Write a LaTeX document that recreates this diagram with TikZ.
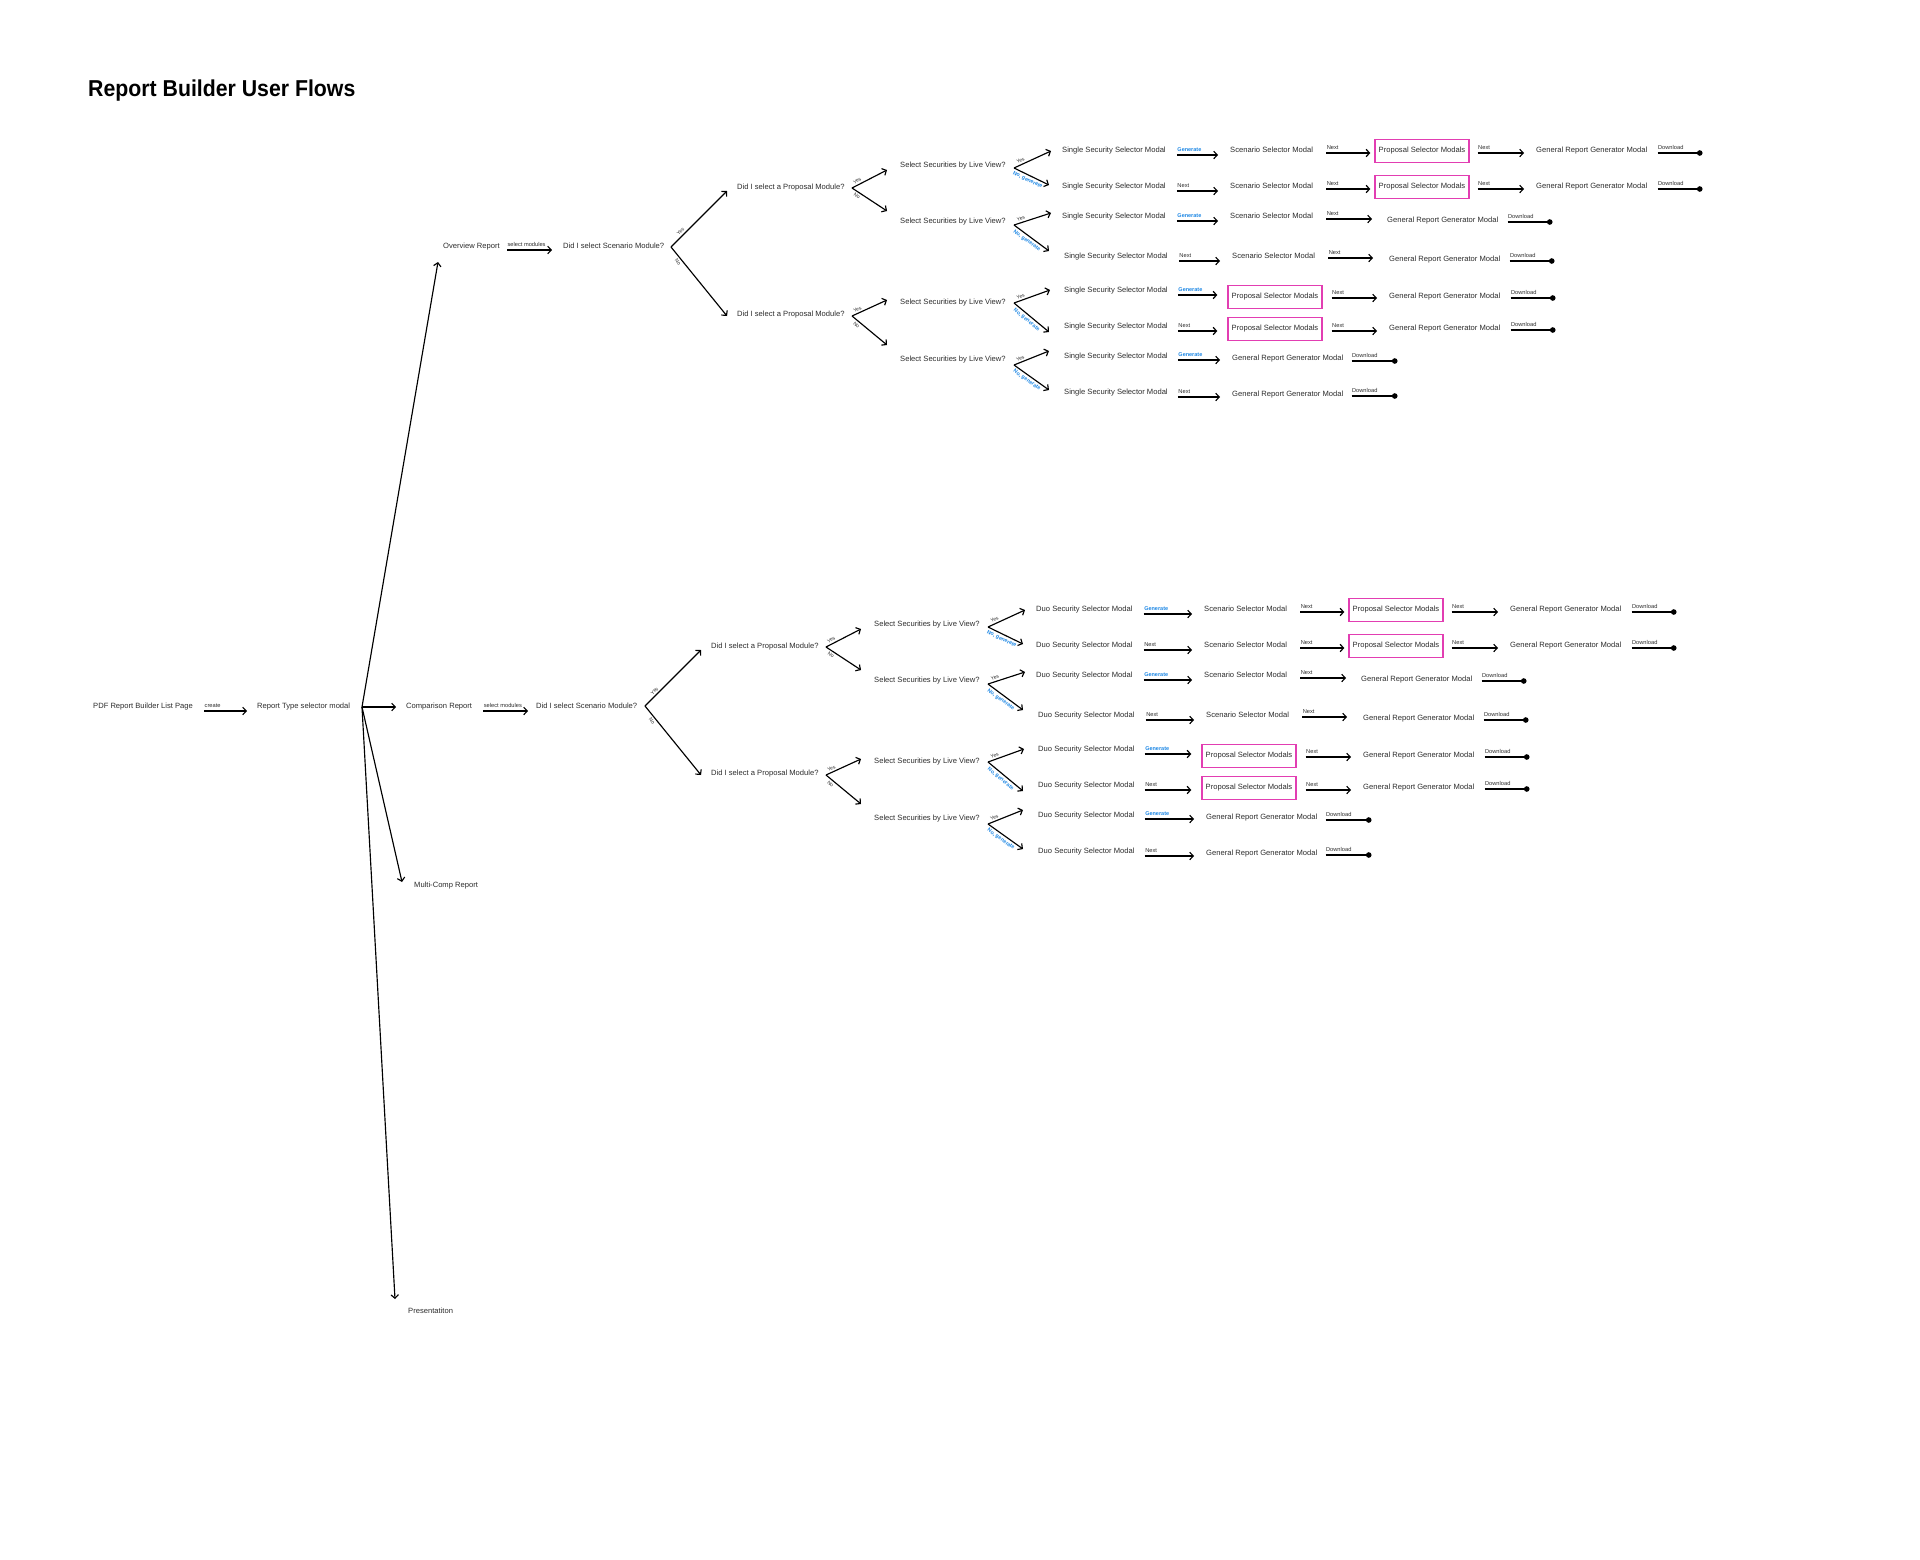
\documentclass[tikz,border=0pt]{standalone}
\usepackage{fontspec}
\setmainfont{Liberation Sans}
\newfontfamily\titlefont[FakeStretch=0.925]{Liberation Sans}
\usetikzlibrary{arrows.meta}
\definecolor{txt}{RGB}{45,45,45}
\definecolor{genblue}{RGB}{30,136,229}
\definecolor{pmag}{RGB}{226,62,178}
\tikzset{
  txtnode/.style={font=\fontsize{7.6}{9}\selectfont, text=txt, inner sep=0pt, anchor=west, text height=5.5pt, text depth=1.6pt},
  lbl/.style={font=\fontsize{5.7}{6}\selectfont, text=txt, inner sep=0pt},
  gen/.style={font=\fontsize{5.5}{6}\selectfont\bfseries, text=genblue, inner sep=0pt},
  yn/.style={font=\fontsize{5}{6}\selectfont, text=txt, inner sep=1.6pt},
  ng/.style={font=\fontsize{5.3}{6}\selectfont\bfseries, text=genblue, inner sep=2pt},
  arr/.style={draw=black, line width=1.15pt, -{Straight Barb[length=3.5pt,width=7.5pt]}},
  dl/.style={draw=black, line width=1.15pt, -{Circle[length=5.5pt]}},
  pbox/.style={txtnode, anchor=center, draw=pmag, line width=1.3pt, minimum width=94pt, minimum height=23pt},
}
% row arrow: from node #1 (gap #2, yshift #3) to node #4 (gap #5, yshift #6), label style #7, label #8
\newcommand\rar[8]{\draw[arr] ([xshift=#2pt,yshift=#3pt]#1.east) -- node[#7,pos=0,anchor=base west,yshift=4pt]{#8} ([xshift=-#5pt,yshift=#6pt]#4.west);}
% download line: node #1, gap #2, yshift #3, end offset #4, end name #5
\newcommand\dlar[5]{\coordinate (#5) at ([xshift=#4pt,yshift=#3pt]#1.east);
  \draw[dl] ([xshift=#2pt,yshift=#3pt]#1.east) -- node[lbl,pos=0,anchor=base west,yshift=4pt]{Download} (#5);}
\newcommand\flowsec[2]{%
  \coordinate (#1f0) at (0,0);
  \node[txtnode] (#1pa) at (66,-59) {Did I select a Proposal Module?};
  \node[txtnode] (#1pb) at (66,68) {Did I select a Proposal Module?};
  \draw[arr] (#1f0) -- node[yn,pos=.22,above,sloped]{Yes} ([xshift=-10pt,yshift=-3pt]#1pa.west);
  \draw[arr] (#1f0) -- node[yn,pos=.18,below,sloped]{No} ([xshift=-10pt,yshift=-1pt]#1pb.west);
  \coordinate (#1f1) at (181,-59);
  \coordinate (#1f2) at (181,69);
  \node[txtnode] (#1la) at (229,-81) {Select Securities by Live View?};
  \node[txtnode] (#1lb) at (229,-25) {Select Securities by Live View?};
  \node[txtnode] (#1lc) at (229,56) {Select Securities by Live View?};
  \node[txtnode] (#1ld) at (229,113) {Select Securities by Live View?};
  \draw[arr] (#1f1) -- node[yn,pos=.2,above,sloped]{Yes} ([xshift=-13pt,yshift=-4pt]#1la.west);
  \draw[arr] (#1f1) -- node[yn,pos=.2,below,sloped]{No} ([xshift=-13pt,yshift=11pt]#1lb.west);
  \draw[arr] (#1f2) -- node[yn,pos=.2,above,sloped]{Yes} ([xshift=-13pt,yshift=3pt]#1lc.west);
  \draw[arr] (#1f2) -- node[yn,pos=.2,below,sloped]{No} ([xshift=-13pt,yshift=15pt]#1ld.west);
  \coordinate (#1v1) at (343,-79);
  \coordinate (#1v2) at (343,-22);
  \coordinate (#1v3) at (343,56);
  \coordinate (#1v4) at (343,118);
  \node[txtnode] (#1s1) at (391,-96) {#2 Security Selector Modal};
  \node[txtnode] (#1s2) at (391,-60) {#2 Security Selector Modal};
  \node[txtnode] (#1s3) at (391,-30) {#2 Security Selector Modal};
  \node[txtnode] (#1s4) at (393,10) {#2 Security Selector Modal};
  \node[txtnode] (#1s5) at (393,44) {#2 Security Selector Modal};
  \node[txtnode] (#1s6) at (393,80) {#2 Security Selector Modal};
  \node[txtnode] (#1s7) at (393,110) {#2 Security Selector Modal};
  \node[txtnode] (#1s8) at (393,146) {#2 Security Selector Modal};
  \draw[arr] (#1v1) -- node[yn,pos=.22,above,sloped]{Yes} ([xshift=-11pt]#1s1.west);
  \draw[arr] (#1v1) -- node[ng,pos=.45,below,sloped]{No, generate} ([xshift=-13pt,yshift=2pt]#1s2.west);
  \draw[arr] (#1v2) -- node[yn,pos=.22,above,sloped]{Yes} ([xshift=-11pt,yshift=4pt]#1s3.west);
  \draw[arr] (#1v2) -- node[ng,pos=.45,below,sloped]{No, generate} ([xshift=-15pt,yshift=6pt]#1s4.west);
  \draw[arr] (#1v3) -- node[yn,pos=.22,above,sloped]{Yes} ([xshift=-14pt,yshift=1pt]#1s5.west);
  \draw[arr] (#1v3) -- node[ng,pos=.45,below,sloped]{No, generate} ([xshift=-15pt,yshift=-5pt]#1s6.west);
  \draw[arr] (#1v4) -- node[yn,pos=.22,above,sloped]{Yes} ([xshift=-15pt,yshift=6pt]#1s7.west);
  \draw[arr] (#1v4) -- node[ng,pos=.45,below,sloped]{No, generate} ([xshift=-15pt,yshift=3pt]#1s8.west);
  \node[txtnode] (#1c1) at (559,-96) {Scenario Selector Modal};
  \node[txtnode] (#1c2) at (559,-60) {Scenario Selector Modal};
  \node[txtnode] (#1c3) at (559,-30) {Scenario Selector Modal};
  \node[txtnode] (#1c4) at (561,10) {Scenario Selector Modal};
  \node[pbox] (#1b1) at (751,-96) {Proposal Selector Modals};
  \node[pbox] (#1b2) at (751,-60) {Proposal Selector Modals};
  \node[pbox] (#1b5) at (604,50) {Proposal Selector Modals};
  \node[pbox] (#1b6) at (604,82) {Proposal Selector Modals};
  \node[txtnode] (#1g1) at (865,-96) {General Report Generator Modal};
  \node[txtnode] (#1g2) at (865,-60) {General Report Generator Modal};
  \node[txtnode] (#1g3) at (716,-26) {General Report Generator Modal};
  \node[txtnode] (#1g4) at (718,13) {General Report Generator Modal};
  \node[txtnode] (#1g5) at (718,50) {General Report Generator Modal};
  \node[txtnode] (#1g6) at (718,82) {General Report Generator Modal};
  \node[txtnode] (#1g7) at (561,112) {General Report Generator Modal};
  \node[txtnode] (#1g8) at (561,148) {General Report Generator Modal};
  % row 1
  \rar{#1s1}{11}{-4}{#1c1}{12}{-4}{gen}{Generate}
  \rar{#1c1}{13}{-2}{#1b1}{4}{-2}{lbl}{Next}
  \rar{#1b1}{8}{-2}{#1g1}{12}{-2}{lbl}{Next}
  \dlar{#1g1}{10}{-2}{55}{#1e1}
  % row 2
  \rar{#1s2}{11}{-4}{#1c2}{12}{-4}{lbl}{Next}
  \rar{#1c2}{13}{-2}{#1b2}{4}{-2}{lbl}{Next}
  \rar{#1b2}{8}{-2}{#1g2}{12}{-2}{lbl}{Next}
  \dlar{#1g2}{10}{-2}{55}{#1e2}
  % row 3
  \rar{#1s3}{11}{-4}{#1c3}{12}{-4}{gen}{Generate}
  \rar{#1c3}{13}{-2}{#1g3}{15}{2}{lbl}{Next}
  \dlar{#1g3}{9}{-1}{54}{#1e3}
  % row 4
  \rar{#1s4}{11}{-4}{#1c4}{12}{-4}{lbl}{Next}
  \rar{#1c4}{13}{-1}{#1g4}{16}{2}{lbl}{Next}
  \dlar{#1g4}{9}{-1}{54}{#1e4}
  % row 5
  \rar{#1s5}{10}{-4}{#1b5}{10}{2}{gen}{Generate}
  \rar{#1b5}{9}{-1}{#1g5}{12}{-1}{lbl}{Next}
  \dlar{#1g5}{10}{-1}{55}{#1e5}
  % row 6
  \rar{#1s6}{10}{-4}{#1b6}{10}{-2}{lbl}{Next}
  \rar{#1b6}{9}{-2}{#1g6}{12}{-2}{lbl}{Next}
  \dlar{#1g6}{10}{-1}{55}{#1e6}
  % row 7
  \rar{#1s7}{10}{-3}{#1g7}{12}{-1}{gen}{Generate}
  \dlar{#1g7}{8}{-2}{54}{#1e7}
  % row 8
  \rar{#1s8}{10}{-4}{#1g8}{12}{-2}{lbl}{Next}
  \dlar{#1g8}{8}{-1}{54}{#1e8}
}
\begin{document}
\begin{tikzpicture}[x=1pt,y=-1pt]
\fill[white] (0,0) rectangle (1920,1559);
\useasboundingbox (0,0) rectangle (1920,1559);
\node[anchor=base west, inner sep=0pt, font=\titlefont\bfseries\fontsize{23}{26}\selectfont] (title) at (88,96) {Report Builder User Flows};
% main row
\node[txtnode] (pdf) at (93,707) {PDF Report Builder List Page};
\node[txtnode] (rts) at (257,707) {Report Type selector modal};
\rar{pdf}{11}{-4}{rts}{10}{-4}{lbl}{create}
\coordinate (fan) at (362,707);
\node[txtnode] (ovr) at (443,247) {Overview Report};
\node[txtnode] (cmp) at (406,707) {Comparison Report};
\node[txtnode] (mcr) at (414,886) {Multi-Comp Report};
\node[txtnode] (prs) at (408,1312) {Presentatiton};
\draw[arr] (fan) -- ([xshift=-5pt,yshift=-15pt]ovr.west);
\draw[arr] (fan) -- ([xshift=-10pt]cmp.west);
\draw[arr] (fan) -- ([xshift=-12pt,yshift=4pt]mcr.west);
\draw[arr] (fan) -- ([xshift=-13pt,yshift=13pt]prs.west);
% scenario questions
\node[txtnode] (sq1) at (563,247) {Did I select Scenario Module?};
\rar{ovr}{7}{-3}{sq1}{11}{-3}{lbl}{select modules}
\node[txtnode] (sq2) at (536,707) {Did I select Scenario Module?};
\rar{cmp}{11}{-4}{sq2}{8}{-4}{lbl}{select modules}
\begin{scope}[shift={(671,247)}]
\flowsec{a}{Single}
\end{scope}
\begin{scope}[shift={(645,706)}]
\flowsec{b}{Duo}
\end{scope}
\end{tikzpicture}
\end{document}
